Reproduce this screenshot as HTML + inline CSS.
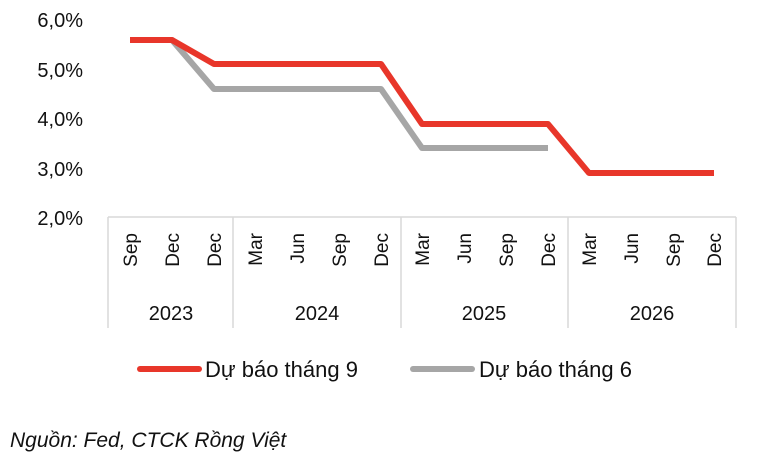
<!DOCTYPE html>
<html><head><meta charset="utf-8"><style>body{margin:0;background:#fff}svg{display:block}text{font-family:"Liberation Sans",sans-serif;fill:#111}</style></head><body>
<svg width="765" height="464" viewBox="0 0 765 464">
<g font-size="20" text-anchor="end">
<text x="83" y="27">6,0%</text><text x="83" y="77">5,0%</text><text x="83" y="126">4,0%</text><text x="83" y="176">3,0%</text><text x="83" y="225">2,0%</text>
</g>
<g stroke="#d9d9d9" stroke-width="1.5" fill="none">
<line x1="108" y1="217" x2="736" y2="217"/>
<line x1="108" y1="217" x2="108" y2="328"/>
<line x1="233" y1="217" x2="233" y2="328"/>
<line x1="401" y1="217" x2="401" y2="328"/>
<line x1="568" y1="217" x2="568" y2="328"/>
<line x1="736" y1="217" x2="736" y2="328"/>
</g>
<g font-size="19" text-anchor="end">
<text transform="translate(137,233) rotate(-90)">Sep</text>
<text transform="translate(179,233) rotate(-90)">Dec</text>
<text transform="translate(221,233) rotate(-90)">Dec</text>
<text transform="translate(262,233) rotate(-90)">Mar</text>
<text transform="translate(304,233) rotate(-90)">Jun</text>
<text transform="translate(346,233) rotate(-90)">Sep</text>
<text transform="translate(388,233) rotate(-90)">Dec</text>
<text transform="translate(429,233) rotate(-90)">Mar</text>
<text transform="translate(471,233) rotate(-90)">Jun</text>
<text transform="translate(513,233) rotate(-90)">Sep</text>
<text transform="translate(555,233) rotate(-90)">Dec</text>
<text transform="translate(596,233) rotate(-90)">Mar</text>
<text transform="translate(638,233) rotate(-90)">Jun</text>
<text transform="translate(680,233) rotate(-90)">Sep</text>
<text transform="translate(721,233) rotate(-90)">Dec</text>
</g>
<g font-size="20" text-anchor="middle">
<text x="171" y="320">2023</text><text x="317" y="320">2024</text><text x="484" y="320">2025</text><text x="652" y="320">2026</text>
</g>
<polyline fill="none" stroke="#a6a6a6" stroke-width="6" stroke-linejoin="round" points="130,40 172,40 214,89 381,89 422,148 548,148"/>
<polyline fill="none" stroke="#e8362a" stroke-width="6" stroke-linejoin="round" points="130,40 172,40 214,64 381,64 422,124 548,124 589,173 714,173"/>
<line x1="140" y1="369" x2="199" y2="369" stroke="#e8362a" stroke-width="6" stroke-linecap="round"/>
<text x="205" y="377" font-size="22">Dự báo tháng 9</text>
<line x1="413" y1="369" x2="472" y2="369" stroke="#a6a6a6" stroke-width="6" stroke-linecap="round"/>
<text x="479" y="377" font-size="22">Dự báo tháng 6</text>
<text x="10" y="447" font-size="21" font-style="italic">Nguồn: Fed, CTCK Rồng Việt</text>
</svg>
</body></html>
